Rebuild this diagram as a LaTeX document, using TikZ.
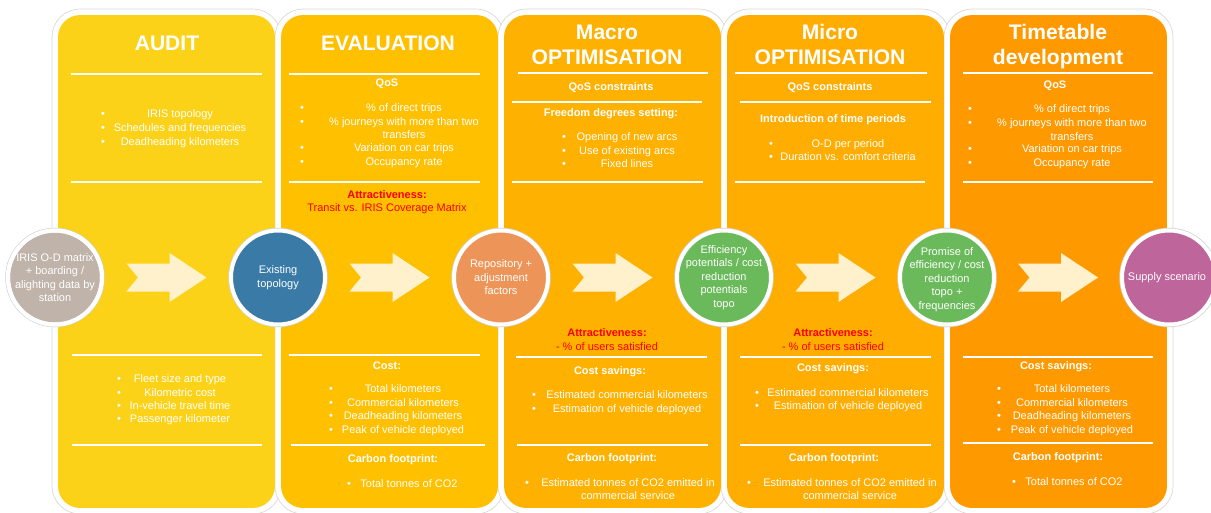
\documentclass[tikz,border=0pt]{standalone}
\usepackage{fontspec}
\setmainfont{Liberation Sans}
\usetikzlibrary{calc}
\definecolor{cAudit}{RGB}{252,210,25}
\definecolor{cEval}{RGB}{255,192,0}
\definecolor{cMacro}{RGB}{255,177,0}
\definecolor{cMicro}{RGB}{255,173,0}
\definecolor{cTime}{RGB}{255,153,0}
\definecolor{cGray}{RGB}{191,179,170}
\definecolor{cBlue}{RGB}{57,123,166}
\definecolor{cOrange}{RGB}{237,149,88}
\definecolor{cGreen}{RGB}{106,186,91}
\definecolor{cPurple}{RGB}{190,101,155}
\definecolor{cArrow}{RGB}{255,241,204}
\definecolor{cRed}{RGB}{250,0,0}
\newcounter{tn}
\newcommand\fs{\fontsize{6.25}{7.7}\selectfont}
\newcommand\ftl{\fontsize{12}{14}\selectfont\bfseries}
\newcommand\bitem[4]{\stepcounter{tn}\node[t] (b\arabic{tn}) at (#1,#3) {\textbullet};\node[t] (i\arabic{tn}) at (#2,#3) {#4};}
\newcommand\sepline[3]{\draw[sep] (#2,#1) -- (#3,#1);}
\begin{document}
\begin{tikzpicture}[x=0.02cm,y=-0.02cm,
  t/.style={font=\fs, text=white, inner sep=0pt, anchor=base, yshift=-0.07cm},
  tb/.style={t, font=\fs\bfseries},
  tr/.style={t, text=cRed},
  trb/.style={tb, text=cRed},
  ttl/.style={font=\ftl, text=white, inner sep=0pt, anchor=base, yshift=-0.15cm},
  sep/.style={white, line width=0.04cm},
  colbox/.style={rectangle, rounded corners=0.44cm, minimum width=4.34cm, minimum height=9.86cm, inner sep=0pt, draw=none},
  outbox/.style={rectangle, rounded corners=0.56cm, minimum width=4.58cm, minimum height=10.1cm, inner sep=0pt, fill=white, draw=black!15, line width=0.4pt},
  circ/.style={circle, minimum size=1.88cm, inner sep=0pt, draw=white, line width=0.08cm, preaction={draw=black!18, line width=0.11cm}},
  ring/.style={circle, minimum size=1.88cm, inner sep=0pt, draw=white, line width=0.08cm},
  ctext/.style={font=\fs, text=white, align=center, inner sep=0pt},
  arrowshape/.style={fill=cArrow, draw=none}
]
\useasboundingbox (0,0) rectangle (1211,512);
\fill[white] (0,0) rectangle (1211,512);

% outer white frames
\foreach \x [count=\i] in {166.5,389.5,612.5,835.5,1058.5}
  \node[outbox] (o\i) at (\x,261.5) {};

% columns
\node[colbox, fill=cAudit] (col0) at (166.5,261.5) {};
\node[colbox, fill=cEval]  (col1) at (389.5,261.5) {};
\node[colbox, fill=cMacro] (col2) at (612.5,261.5) {};
\node[colbox, fill=cMicro] (col3) at (835.5,261.5) {};
\node[colbox, fill=cTime]  (col4) at (1058.5,261.5) {};

% separator lines
\sepline{74}{71}{262}\sepline{182}{71}{262}\sepline{355}{72}{262}\sepline{445}{72}{262}
\sepline{74}{289}{480}\sepline{182}{289}{480}\sepline{355}{289}{480}\sepline{445}{291}{485}
\sepline{73}{518}{708}\sepline{102}{512}{702}\sepline{182}{512}{703}\sepline{357}{516}{707}\sepline{445}{517}{708}
\sepline{73}{735}{927}\sepline{102}{740}{931}\sepline{182}{735}{925}\sepline{357}{740}{931}\sepline{445}{740}{931}
\sepline{73}{963}{1153}\sepline{182}{963}{1153}\sepline{357}{963}{1153}\sepline{443}{963}{1153}

% AUDIT
\node[ttl] (tA) at (167,43) {AUDIT};
\bitem{103}{180}{114}{IRIS topology}
\bitem{103}{180}{128}{Schedules and frequencies}
\bitem{103}{180}{142}{Deadheading kilometers}
\bitem{119}{180}{379}{Fleet size and type}
\bitem{119}{180}{393}{Kilometric cost}
\bitem{119}{180}{406}{In-vehicle travel time}
\bitem{119}{180}{419}{Passenger kilometer}

% EVALUATION
\node[ttl] (tE) at (388,43) {EVALUATION};
\node[tb] (e1) at (387,83) {QoS};
\bitem{302}{404}{108}{\% of direct trips}
\bitem{302}{404}{122}{\% journeys with more than two}
\node[t] (e2) at (404,135) {transfers};
\bitem{302}{404}{148}{Variation on car trips}
\bitem{302}{404}{162}{Occupancy rate}
\node[trb] (e3) at (387,195) {Attractiveness:};
\node[tr] (e4) at (387,208) {Transit vs. IRIS Coverage Matrix};
\node[tb] (e5) at (387,366) {Cost:};
\bitem{331}{403}{389}{Total kilometers}
\bitem{331}{403}{403}{Commercial kilometers}
\bitem{331}{403}{416}{Deadheading kilometers}
\bitem{331}{403}{430}{Peak of vehicle deployed}
\node[tb] (e6) at (393,459) {Carbon footprint:};
\bitem{349}{409}{484}{Total tonnes of CO2}

% MACRO
\node[ttl] (tM1) at (607,32) {Macro};
\node[ttl] (tM2) at (607,57) {OPTIMISATION};
\node[tb] (m1) at (611,87) {QoS constraints};
\node[tb] (m2) at (611,113) {Freedom degrees setting:};
\bitem{564}{627}{137}{Opening of new arcs}
\bitem{564}{627}{151}{Use of existing arcs}
\bitem{564}{627}{164}{Fixed lines}
\node[trb] (m3) at (607,333) {Attractiveness:};
\node[tr] (m4) at (607,347) {- \% of users satisfied};
\node[tb] (m5) at (610,371) {Cost savings:};
\bitem{534}{627}{395}{Estimated commercial kilometers}
\bitem{534}{627}{409}{Estimation of vehicle deployed}
\node[tb] (m6) at (612,458) {Carbon footprint:};
\bitem{527}{628}{483}{Estimated tonnes of CO2 emitted in}
\node[t] (m7) at (628,496) {commercial service};

% MICRO
\node[ttl] (tm1) at (830,32) {Micro};
\node[ttl] (tm2) at (830,57) {OPTIMISATION};
\node[tb] (n1) at (830,87) {QoS constraints};
\node[tb] (n2) at (833,119) {Introduction of time periods};
\bitem{771}{848}{144}{O-D per period}
\bitem{771}{848}{157}{Duration vs. comfort criteria}
\node[trb] (n3) at (833,333) {Attractiveness:};
\node[tr] (n4) at (833,347) {- \% of users satisfied};
\node[tb] (n5) at (833,368) {Cost savings:};
\bitem{757}{848}{393}{Estimated commercial kilometers}
\bitem{757}{848}{406}{Estimation of vehicle deployed}
\node[tb] (n6) at (834,458) {Carbon footprint:};
\bitem{749}{850}{483}{Estimated tonnes of CO2 emitted in}
\node[t] (n7) at (850,496) {commercial service};

% TIMETABLE
\node[ttl] (tT1) at (1058,32) {Timetable};
\node[ttl] (tT2) at (1058,57) {development};
\node[tb] (p1) at (1055,85) {QoS};
\bitem{970}{1072}{109}{\% of direct trips}
\bitem{970}{1072}{123}{\% journeys with more than two}
\node[t] (p2) at (1072,137) {transfers};
\bitem{970}{1072}{149}{Variation on car trips}
\bitem{970}{1072}{163}{Occupancy rate}
\node[tb] (p3) at (1056,366) {Cost savings:};
\bitem{999}{1072}{389}{Total kilometers}
\bitem{999}{1072}{403}{Commercial kilometers}
\bitem{999}{1072}{416}{Deadheading kilometers}
\bitem{999}{1072}{430}{Peak of vehicle deployed}
\node[tb] (p4) at (1058,457) {Carbon footprint:};
\bitem{1014}{1074}{482}{Total tonnes of CO2}

% circles
\node[circ, fill=cGray]   (c0) at (55,277.5) {};
\node[circ, fill=cBlue]   (c1) at (278,277.5) {};
\node[circ, fill=cOrange] (c2) at (501,277.5) {};
\node[circ, fill=cGreen]  (c3) at (724,277.5) {};
\node[circ, fill=cGreen]  (c4) at (947,277.5) {};
\node[circ, fill=cPurple] (c5) at (1169,277.5) {};
\node[ctext] (c0t) at (c0) {IRIS O-D matrix\\+ boarding /\\alighting data by\\station};
\node[ctext] (c1t) at (c1) {Existing\\topology};
\node[ctext] (c2t) at (c2) {Repository +\\adjustment\\factors};
\node[ctext] (c3t) at (c3) {Efficiency\\potentials / cost\\reduction\\potentials\\topo};
\node[ctext] (c4t) at ($(c4)+(0,2)$) {Promise of\\efficiency / cost\\reduction\\topo +\\frequencies};
\node[ctext] (c5t) at ($(c5)+(-2,0)$) {Supply scenario};
% white ring over the overflowing text of the first circle
\node[ring] (c0r) at (c0) {};

% block arrows between circles
\foreach \a/\b [count=\k] in {c0/c1,c1/c2,c2/c3,c3/c4,c4/c5} {
  \coordinate (mid\k) at ($(\a)!0.5!(\b)$);
  \fill[arrowshape, shift={(mid\k)}] (-40,-14) -- (3,-14) -- (3,-24.5) -- (40,0) -- (3,24.5) -- (3,14) -- (-40,14) -- (-28.5,0) -- cycle;
}
\end{tikzpicture}
\end{document}
